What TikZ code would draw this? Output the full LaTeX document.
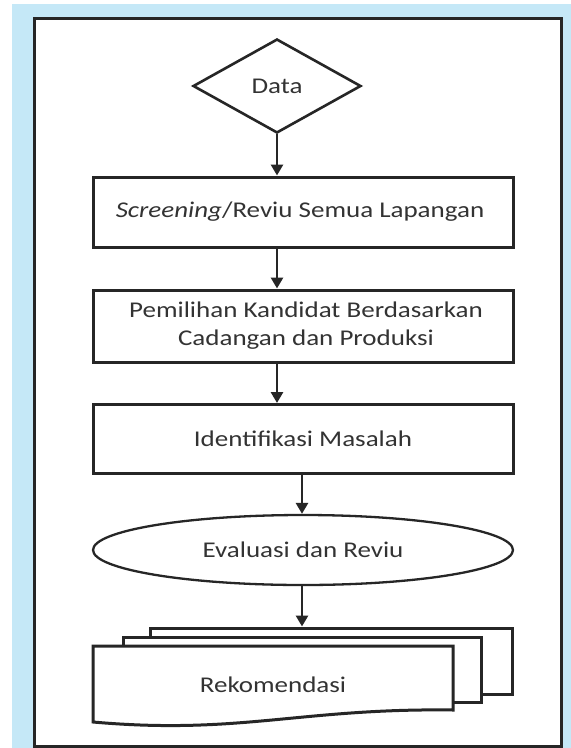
\documentclass[tikz,border=0pt]{standalone}
\usepackage{fontspec}
\setmainfont[FakeStretch=1.2]{Carlito}
\usetikzlibrary{shapes.geometric,arrows.meta}
\definecolor{bgblue}{HTML}{C5E8F7}
\definecolor{ink}{HTML}{262626}
\definecolor{txt}{HTML}{333333}
\begin{document}
\begin{tikzpicture}[x=1pt,y=-1pt,
  every node/.style={text=txt,font=\fontsize{22.5}{28}\selectfont},
  boxnode/.style={draw=ink,line width=3pt,fill=white,minimum width=420pt,inner sep=0pt,align=center},
  ellnode/.style={draw=ink,ellipse,line width=2.3pt,fill=white,minimum width=420pt,minimum height=70pt,inner sep=0pt},
  docbox/.style={draw=ink,line width=3pt,fill=white,inner sep=0pt},
  flow/.style={draw=ink,line width=2.8pt,-{Triangle[width=12pt,length=11pt]}}]
\useasboundingbox (0,0) rectangle (571,748);
\fill[white] (0,0) rectangle (571,748);
\fill[bgblue] (12,4) rectangle (571,748);
\draw[ink,line width=3pt,fill=white] (34,18) rectangle (561,746);
% nodes
\node[diamond,draw=ink,line width=2.6pt,fill=white,inner sep=0pt,aspect=1.79,minimum width=168pt,minimum height=94pt] (d) at (277,86) {Data};
\node[boxnode,minimum height=70pt] (r1) at (303,212) {\hspace*{-6pt}\textit{Screening}/Reviu Semua Lapangan};
\node[boxnode,minimum height=72pt] (r2) at (303,326) {\hspace*{6pt}Pemilihan Kandidat Berdasarkan\\\hspace*{6pt}Cadangan dan Produksi};
\node[boxnode,minimum height=69pt] (r3) at (303,439) {Identifikasi Masalah};
\node[ellnode] (e) at (303,550) {Evaluasi dan Reviu};
\node[docbox,minimum width=362pt,minimum height=66pt] (doc3) at (331,661) {};
\node[docbox,minimum width=358pt,minimum height=65pt] (doc2) at (302,669.5) {};
\coordinate (fa) at (93,646);
\coordinate (fb) at (453,646);
\coordinate (fc) at (453,710);
\coordinate (fd) at (93,722);
\draw[ink,line width=3pt,fill=white,line join=miter] (fa) -- (fb) -- (fc) .. controls (300,708) and (240,735) .. (fd) -- cycle;
\node (rek) at (273,685) {Rekomendasi};
% connectors
\draw[flow] (d.south) -- (d.south |- r1.north);
\draw[flow] (r1.south -| d.south) -- (r2.north -| d.south);
\draw[flow] (r2.south -| d.south) -- (r3.north -| d.south);
\coordinate (ax) at (302,0);
\draw[flow] (r3.south -| ax) -- (e.north -| ax);
\draw[flow] (e.south -| ax) -- (doc3.north -| ax);
\end{tikzpicture}
\end{document}
